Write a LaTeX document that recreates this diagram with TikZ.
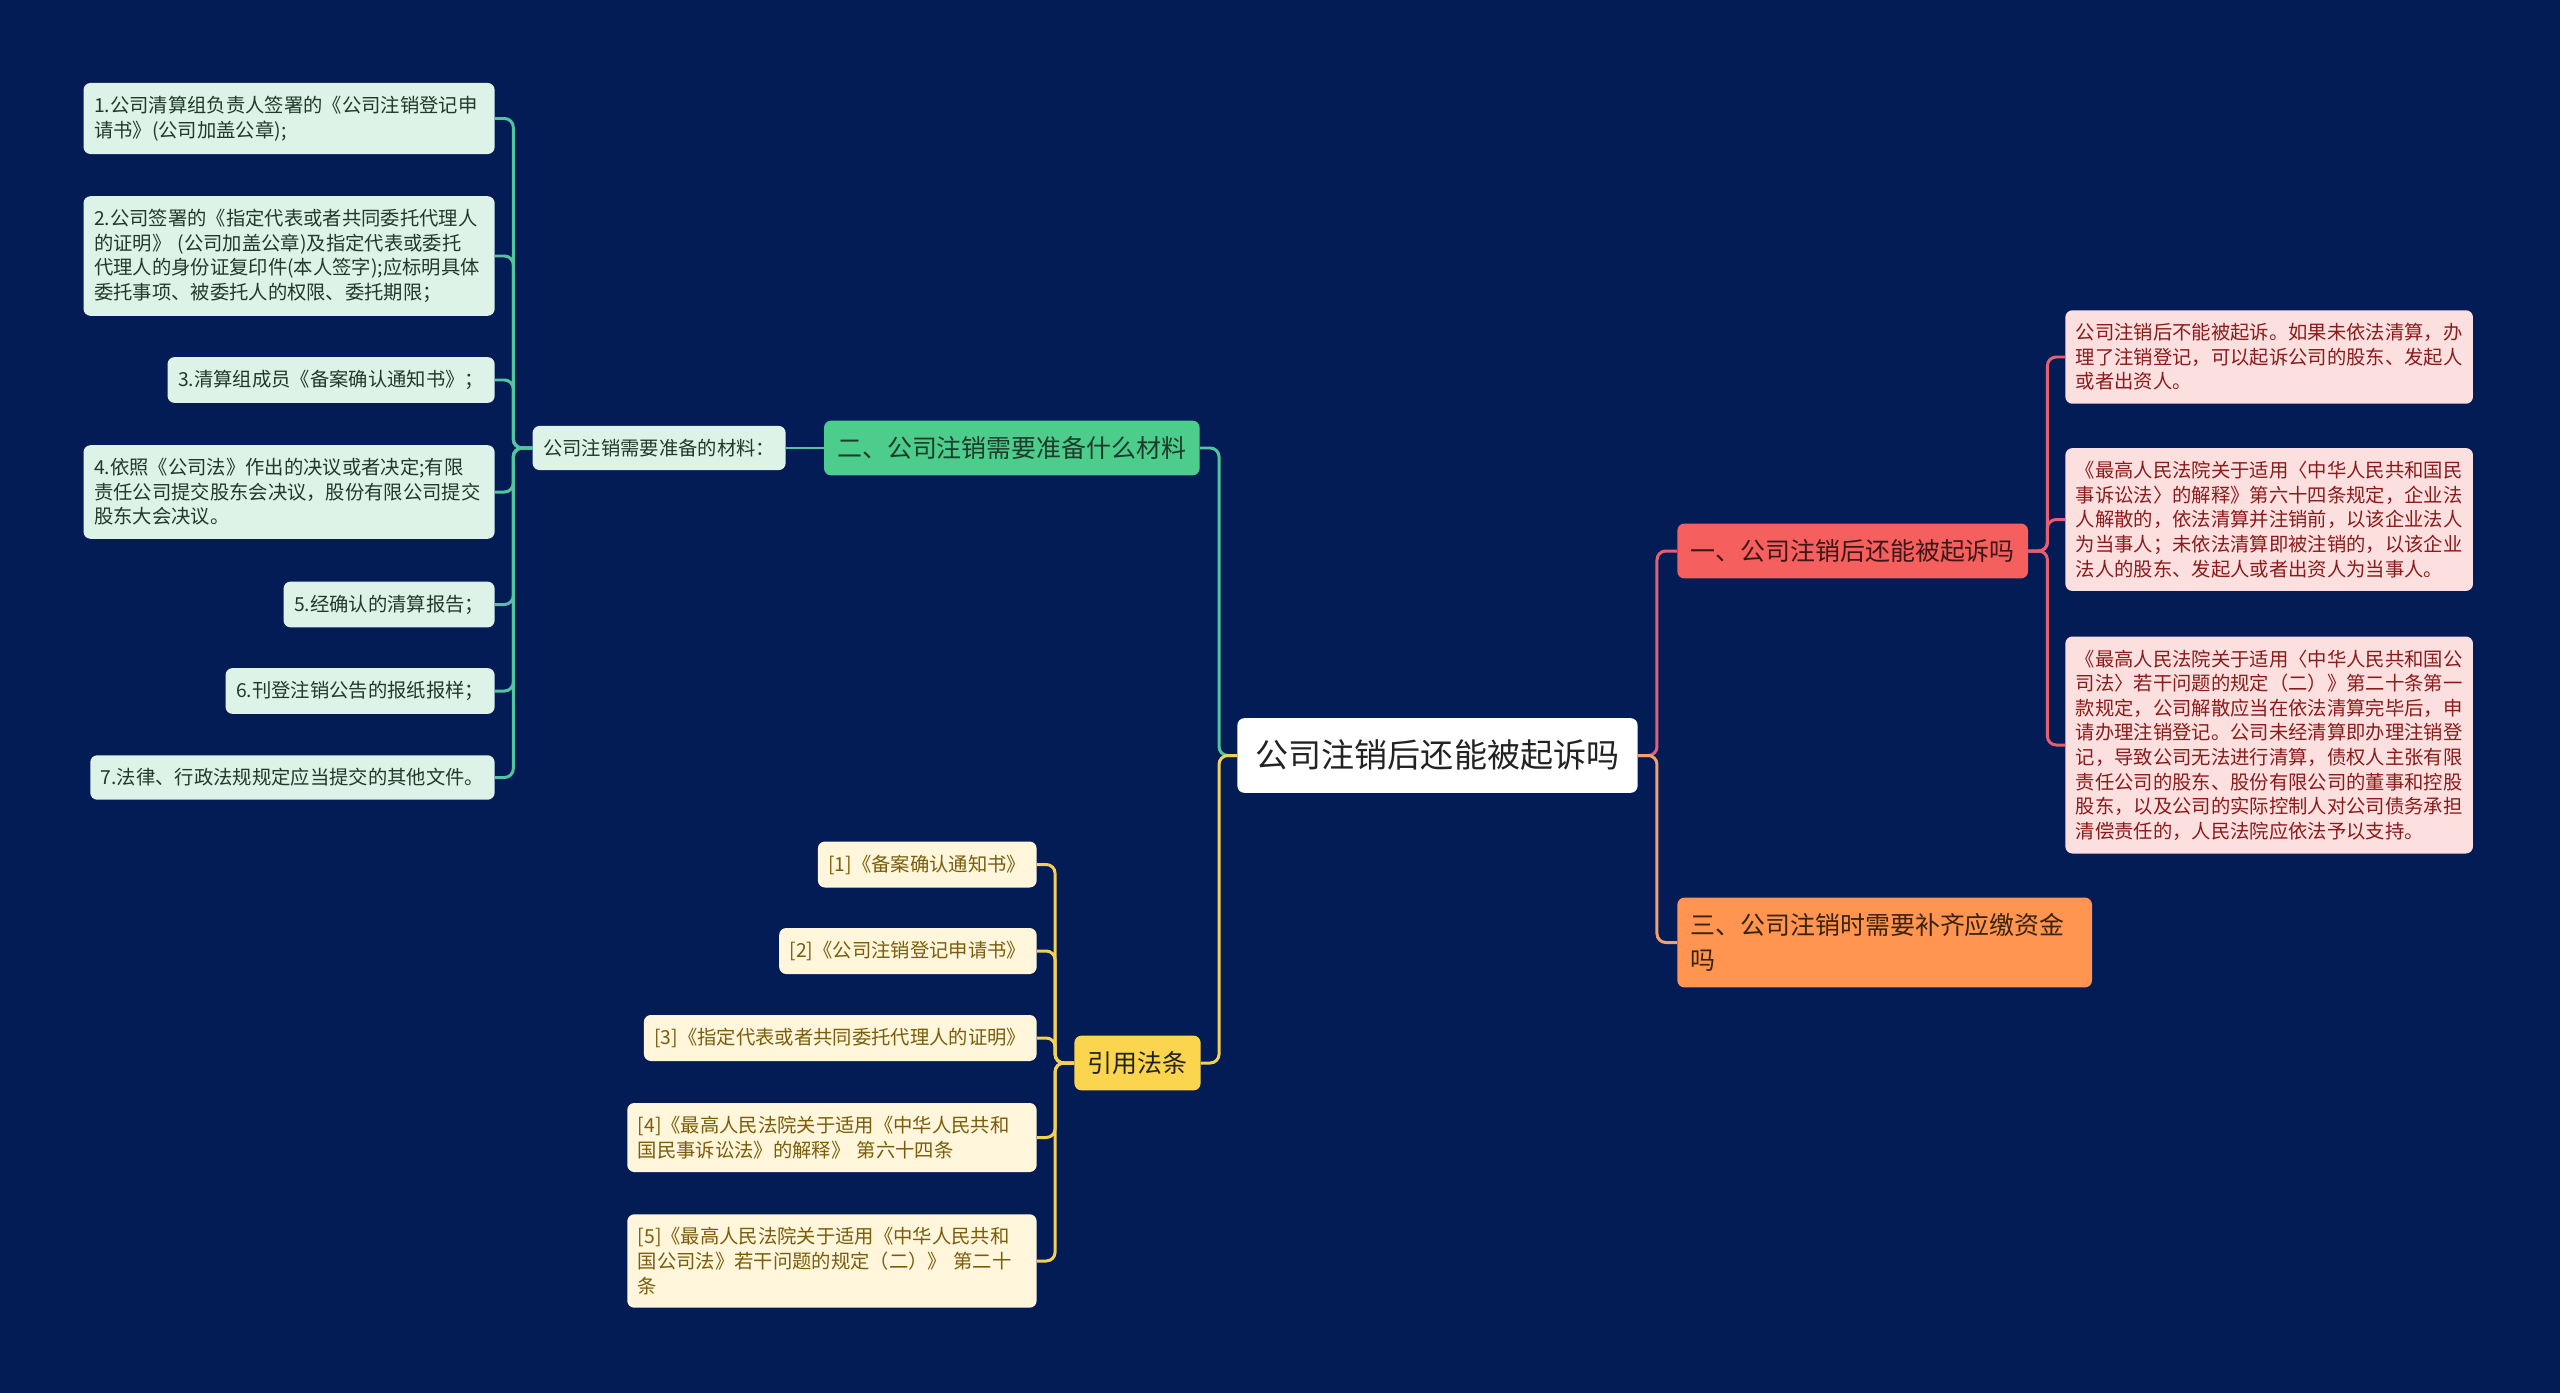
\documentclass[tikz,border=0pt]{standalone}
\usepackage{fontspec}
\setmainfont{Noto Sans CJK SC}
\definecolor{bgnavy}{HTML}{031C56}
\definecolor{rootink}{HTML}{222222}
\definecolor{greenfill}{HTML}{4CCD8C}
\definecolor{greenpale}{HTML}{DDF3E8}
\definecolor{greenink}{HTML}{1F3A2B}
\definecolor{greenedge}{HTML}{52C49E}
\definecolor{redfill}{HTML}{F5605F}
\definecolor{redink}{HTML}{3D1616}
\definecolor{pinkpale}{HTML}{FCE0E0}
\definecolor{pinkink}{HTML}{8B1A1A}
\definecolor{rededge}{HTML}{E45F72}
\definecolor{orangefill}{HTML}{FF9550}
\definecolor{orangeink}{HTML}{3A2210}
\definecolor{orangeedge}{HTML}{F2A06C}
\definecolor{yellowfill}{HTML}{FCD54E}
\definecolor{yellowpale}{HTML}{FFF6DB}
\definecolor{yellowink}{HTML}{7A5C0A}
\definecolor{yellowedge}{HTML}{F3D155}
\begin{document}
\begin{tikzpicture}[x=0.02cm, y=-0.02cm,
  every node/.style={rectangle, rounded corners=4pt, align=left, font=\fontsize{11}{14}\selectfont, inner xsep=6pt, inner ysep=7.5pt},
  rootnode/.style={fill=white, text=rootink, font=\fontsize{18.8}{22}\selectfont, inner xsep=10.5pt, inner ysep=12.5pt},
  topic/.style={font=\fontsize{14.2}{20}\selectfont, inner xsep=7.5pt, inner ysep=9pt},
  greentopic/.style={topic, fill=greenfill, text=greenink},
  redtopic/.style={topic, fill=redfill, text=redink},
  orangetopic/.style={topic, fill=orangefill, text=orangeink},
  yellowtopic/.style={topic, fill=yellowfill, text=rootink},
  greenleaf/.style={fill=greenpale, text=greenink},
  pinkleaf/.style={fill=pinkpale, text=pinkink},
  yellowleaf/.style={fill=yellowpale, text=yellowink},
  wideleaf/.style={text width=222pt},
  greenline/.style={draw=greenedge, line width=1.7pt, rounded corners=5pt},
  redline/.style={draw=rededge, line width=1.7pt, rounded corners=5pt},
  orangeline/.style={draw=orangeedge, line width=1.7pt, rounded corners=5pt},
  yellowline/.style={draw=yellowedge, line width=1.7pt, rounded corners=5pt}
]
\useasboundingbox (0,0) rectangle (2560,1393);
\fill[bgnavy] (0,0) rectangle (2560,1393);

% Root
\node[rootnode] (root) at (1437.5,755.5) {公司注销后还能被起诉吗};

% Topics
\node[greentopic, anchor=east] (mat) at (1200,448) {二、公司注销需要准备什么材料};
\node[redtopic, anchor=west] (q1) at (1677,551) {一、公司注销后还能被起诉吗};
\node[orangetopic, anchor=west, text width=221pt] (q3) at (1677,942.5) {三、公司注销时需要补齐应缴资金\\吗};
\node[yellowtopic] (law) at (1137.5,1063) {引用法条};

% Materials
\node[greenleaf, anchor=east] (matlabel) at (786,448) {公司注销需要准备的材料：};
\node[greenleaf, wideleaf, anchor=east] (g1) at (495,118.5) {1.公司清算组负责人签署的《公司注销登记申\\请书》(公司加盖公章);};
\node[greenleaf, wideleaf, anchor=east] (g2) at (495,256) {2.公司签署的《指定代表或者共同委托代理人\\的证明》 (公司加盖公章)及指定代表或委托\\代理人的身份证复印件(本人签字);应标明具体\\委托事项、被委托人的权限、委托期限；};
\node[greenleaf, anchor=east] (g3) at (495,380) {3.清算组成员《备案确认通知书》；};
\node[greenleaf, wideleaf, anchor=east] (g4) at (495,492) {4.依照《公司法》作出的决议或者决定;有限\\责任公司提交股东会决议，股份有限公司提交\\股东大会决议。};
\node[greenleaf, anchor=east] (g5) at (495,604.5) {5.经确认的清算报告；};
\node[greenleaf, anchor=east] (g6) at (495,691) {6.刊登注销公告的报纸报样；};
\node[greenleaf, anchor=east] (g7) at (495,777.5) {7.法律、行政法规规定应当提交的其他文件。};

% Answers
\node[pinkleaf, anchor=west] (p1) at (2065,357) {公司注销后不能被起诉。如果未依法清算，办\\理了注销登记，可以起诉公司的股东、发起人\\或者出资人。};
\node[pinkleaf, anchor=west] (p2) at (2065,519.5) {《最高人民法院关于适用〈中华人民共和国民\\事诉讼法〉的解释》第六十四条规定，企业法\\人解散的，依法清算并注销前，以该企业法人\\为当事人；未依法清算即被注销的，以该企业\\法人的股东、发起人或者出资人为当事人。};
\node[pinkleaf, anchor=west] (p3) at (2065,745) {《最高人民法院关于适用〈中华人民共和国公\\司法〉若干问题的规定（二）》第二十条第一\\款规定，公司解散应当在依法清算完毕后，申\\请办理注销登记。公司未经清算即办理注销登\\记，导致公司无法进行清算，债权人主张有限\\责任公司的股东、股份有限公司的董事和控股\\股东，以及公司的实际控制人对公司债务承担\\清偿责任的，人民法院应依法予以支持。};

% References
\node[yellowleaf, anchor=east] (r1) at (1037,864.5) {[1]《备案确认通知书》};
\node[yellowleaf, anchor=east] (r2) at (1037,951) {[2]《公司注销登记申请书》};
\node[yellowleaf, anchor=east] (r3) at (1037,1038) {[3]《指定代表或者共同委托代理人的证明》};
\node[yellowleaf, anchor=east, text width=221pt] (r4) at (1037,1137.5) {[4]《最高人民法院关于适用《中华人民共和\\国民事诉讼法》的解释》 第六十四条};
\node[yellowleaf, anchor=east, text width=221pt] (r5) at (1037,1261) {[5]《最高人民法院关于适用《中华人民共和\\国公司法》若干问题的规定（二）》 第二十\\条};

% Connectors
\draw[greenline] (root.west) -- ++(-18,0) |- (mat.east);
\draw[yellowline] (root.west) -- ++(-18,0) |- (law.east);
\draw[redline] (root.east) -- ++(19,0) |- (q1.west);
\draw[orangeline] (root.east) -- ++(19,0) |- (q3.west);
\draw[greenline] (mat.west) -- (matlabel.east);
\foreach \i in {1,...,7}
  \draw[greenline] (matlabel.west) -- ++(-19,0) |- (g\i.east);
\foreach \i in {1,2,3}
  \draw[redline] (q1.east) -- ++(19,0) |- (p\i.west);
\foreach \i in {1,...,5}
  \draw[yellowline] (law.west) -- ++(-19,0) |- (r\i.east);

\end{tikzpicture}
\end{document}
